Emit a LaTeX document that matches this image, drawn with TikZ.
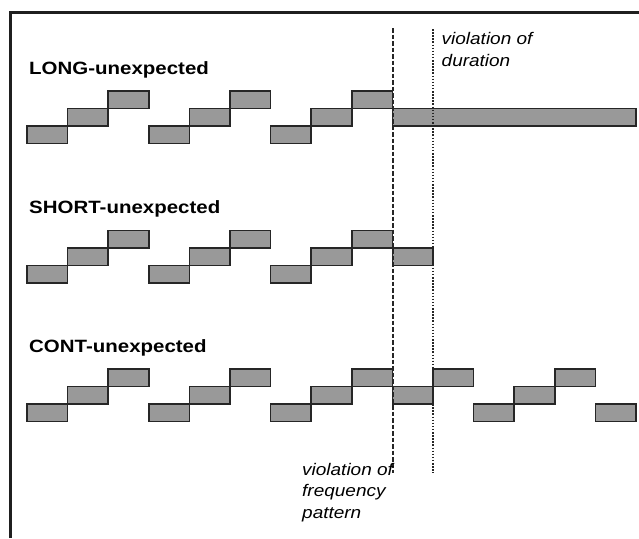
\documentclass[tikz,border=0pt]{standalone}
\usepackage{fontspec}
\setmainfont{Liberation Sans}
\usepackage{graphicx}
\begin{document}
\begin{tikzpicture}[x=1pt,y=-1pt,
  stepbox/.style={draw=black!85, fill=black!40, line width=1.7pt},
  frameline/.style={draw=black!88, line width=3pt},
  patline/.style={draw=black!85, line width=1.8pt, dash pattern=on 4.5pt off 2pt},
  durline/.style={draw=black!85, line width=1.7pt, dash pattern=on 1.5pt off 1.6pt},
  lbl/.style={inner sep=0pt, anchor=base west, font=\fontsize{17.8}{20}\selectfont\bfseries},
  note/.style={inner sep=0pt, anchor=base west, font=\fontsize{16.8}{21.5}\selectfont\itshape}]
\useasboundingbox (0,0) rectangle (639,538);
\fill[white] (0,0) rectangle (639,538);
% frame
\coordinate (fbl) at (10,538);
\coordinate (ftl) at (10,12);
\coordinate (ftr) at (639,12);
\draw[frameline] (fbl) -- (ftl) -- (ftr);
% regular staircase in all three rows
\foreach \T in {91,230.5,369}
  \foreach \i/\l in {0/0,1/1,2/2,3/0,4/1,5/2,6/0,7/1,8/2}
    \draw[stepbox] ({27+\i*40.6},{\T+(2-\l)*17.5}) rectangle ++(40.6,17.5);
% LONG: long tone
\draw[stepbox] (392.4,108.5) rectangle (636,126);
% SHORT: short tone
\draw[stepbox] (392.4,248) rectangle ++(40.6,17.5);
% CONT: continuation
\foreach \i/\l in {9/1,10/2,11/0,12/1,13/2,14/0}
  \draw[stepbox] ({27+\i*40.6},{369+(2-\l)*17.5}) rectangle ++(40.6,17.5);
% labels
\node[lbl] (long) at (29,74) {\scalebox{1.15}[1]{LONG-unexpected}};
\node[lbl] (short) at (29,213) {\scalebox{1.15}[1]{SHORT-unexpected}};
\node[lbl] (cont) at (29,352) {\scalebox{1.15}[1]{CONT-unexpected}};
% violation lines
\coordinate (ptop) at (393,28);
\coordinate (pbot) at (393,473);
\coordinate (dtop) at (433,29);
\coordinate (dbot) at (433,473);
\draw[patline] (ptop) -- (pbot);
\draw[durline] (dtop) -- (dbot);
% notes
\node[note] (dur) at (441.5,44.5) {\scalebox{1.13}[1]{\begin{tabular}[t]{@{}l@{}}violation of\\duration\end{tabular}}};
\node[note] (freq) at (302,475) {\scalebox{1.13}[1]{\begin{tabular}[t]{@{}l@{}}violation of\\frequency\\pattern\end{tabular}}};
\end{tikzpicture}
\end{document}
